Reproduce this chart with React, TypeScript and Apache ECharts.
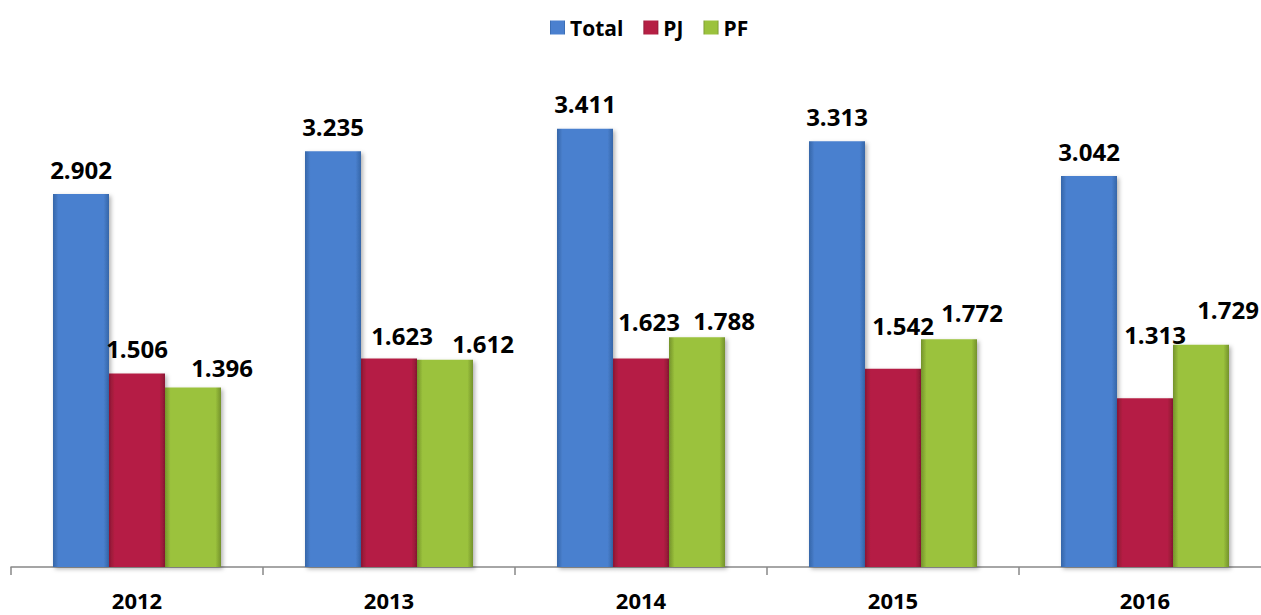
import React, { useEffect, useRef } from "react";
import * as echarts from "echarts";

const categories = ["2012", "2013", "2014", "2015", "2016"];
const totalValues = [2.902, 3.235, 3.411, 3.313, 3.042];
const pjValues = [1.506, 1.623, 1.623, 1.542, 1.313];
const pfValues = [1.396, 1.612, 1.788, 1.772, 1.729];

// manual label nudges seen in the reference (x, y in px)
const pjLabelOffsets = [[0, 0], [13, 2], [8, -12], [10, -18], [10, -39]];
const pfLabelOffsets = [[29, 5], [38, 9], [27, 8], [23, -2], [27, -10]];

const grad = (edge: string, mid: string) =>
  new echarts.graphic.LinearGradient(0, 0, 1, 0, [
    { offset: 0, color: edge },
    { offset: 0.1, color: mid },
    { offset: 0.9, color: mid },
    { offset: 1, color: edge },
  ]);

export default function App() {
  const ref = useRef<HTMLDivElement>(null);
  useEffect(() => {
    const chart = echarts.init(ref.current!, undefined, { renderer: "svg" });
    const label = {
      show: true,
      position: "top" as const,
      distance: 13,
      color: "#000",
      fontFamily: "Open Sans",
      fontWeight: "bold" as const,
      fontSize: 24,
      formatter: (p: any) => p.value.toFixed(3),
    };
    const mk = (
      name: string,
      values: number[],
      offsets: number[][] | null,
      edge: string,
      mid: string
    ) => ({
      name,
      type: "bar" as const,
      data: values.map((v, i) =>
        offsets ? { value: v, label: { offset: offsets[i] } } : { value: v }
      ),
      barWidth: 56,
      barGap: "0%",
      label,
      itemStyle: {
        color: grad(edge, mid),
        shadowColor: "rgba(0,0,0,0.3)",
        shadowBlur: 4,
        shadowOffsetX: 2,
        shadowOffsetY: 2,
      },
    });
    chart.setOption({
      animation: false,
      legend: {
        top: 12,
        left: 545,
        itemWidth: 15,
        itemHeight: 14,
        itemGap: 20,
        icon: "rect",
        textStyle: {
          fontFamily: "Open Sans",
          fontWeight: "bold",
          fontSize: 21,
          color: "#000",
          padding: [0, 0, 0, 0],
        },
        data: ["Total", "PJ", "PF"],
      },
      grid: {
        left: 11,
        right: -10,
        top: 53,
        bottom: 48,
        containLabel: false,
        outerBoundsMode: "none",
      },
      xAxis: {
        type: "category",
        data: categories,
        axisLine: { lineStyle: { color: "#888", width: 1.5 } },
        axisTick: { show: true, length: 8, lineStyle: { color: "#888", width: 1.5 } },
        axisLabel: {
          color: "#000",
          fontFamily: "Open Sans",
          fontWeight: "bold",
          fontSize: 22,
          margin: 22,
        },
      },
      yAxis: { type: "value", min: 0, max: 4, show: false, splitLine: { show: false } },
      series: [
        mk("Total", totalValues, null, "#3566a8", "#4a80cf"),
        mk("PJ", pjValues, pjLabelOffsets, "#8a1734", "#b51f44"),
        mk("PF", pfValues, pfLabelOffsets, "#74922b", "#9bc23d"),
      ],
    });
    return () => chart.dispose();
  }, []);
  return (
    <div
      ref={ref}
      style={{ position: "fixed", left: 0, top: 0, width: 1261, height: 615, background: "#fff" }}
    />
  );
}
